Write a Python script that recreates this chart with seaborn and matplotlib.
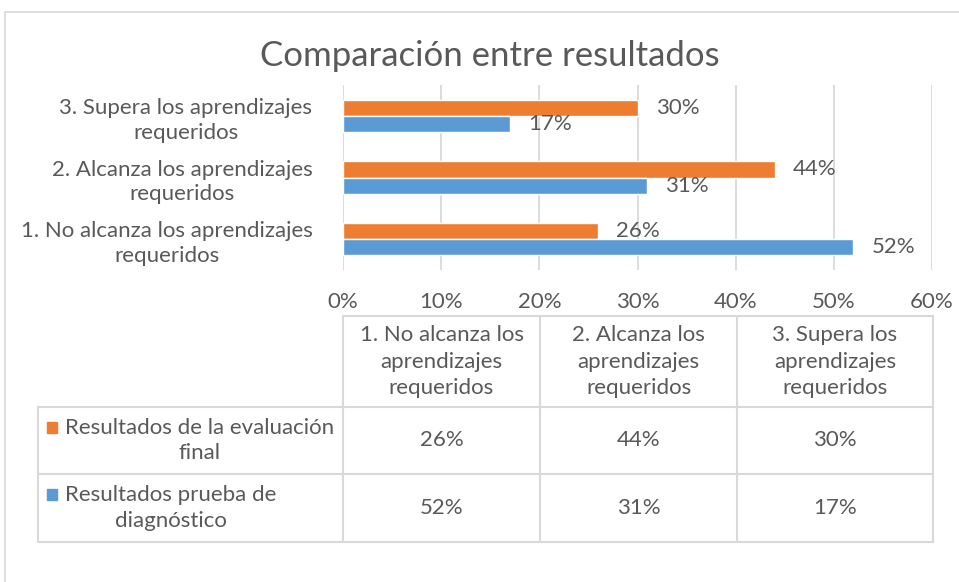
import matplotlib
matplotlib.use("Agg")
import matplotlib.pyplot as plt
import seaborn as sns
import pandas as pd
from matplotlib.ticker import PercentFormatter
from matplotlib.lines import Line2D
from matplotlib.patches import Rectangle

sns.set_theme(style="white")
plt.rcParams["font.family"] = ["Lato", "DejaVu Sans"]

# ---- data ----
categories = [
    "1. No alcanza los aprendizajes requeridos",
    "2. Alcanza los aprendizajes requeridos",
    "3. Supera los aprendizajes requeridos",
]
axis_labels = [
    "1. No alcanza los aprendizajes\nrequeridos",
    "2. Alcanza los aprendizajes\nrequeridos",
    "3. Supera los aprendizajes\nrequeridos",
]
table_headers = [
    "1. No alcanza los\naprendizajes\nrequeridos",
    "2. Alcanza los\naprendizajes\nrequeridos",
    "3. Supera los\naprendizajes\nrequeridos",
]
series_names = ["Resultados de la evaluación final", "Resultados prueba de diagnóstico"]
series_wrapped = ["Resultados de la evaluación\nfinal", "Resultados prueba de\ndiagnóstico"]
final_eval = [0.26, 0.44, 0.30]
diagnostic = [0.52, 0.31, 0.17]
x_ticks = [0.0, 0.1, 0.2, 0.3, 0.4, 0.5, 0.6]
title = "Comparación entre resultados"

ORANGE = "#ED7D31"
BLUE = "#5B9BD5"
TXT = "#595959"
GRID = "#D9D9D9"
FS = 16

df = pd.DataFrame({
    "cat": categories * 2,
    "serie": [series_names[0]] * 3 + [series_names[1]] * 3,
    "val": final_eval + diagnostic,
})

W, H = 959, 582
fig = plt.figure(figsize=(W / 100, H / 100), dpi=100)


def fx(x):
    return x / W


def fy(y):
    return 1 - y / H


# outer chart frame (top and left visible)
fig.add_artist(Line2D([fx(5), fx(959)], [fy(12), fy(12)], color=GRID, lw=1.2, transform=fig.transFigure))
fig.add_artist(Line2D([fx(5), fx(5)], [fy(12), fy(582)], color=GRID, lw=1.2, transform=fig.transFigure))

ax = fig.add_axes([fx(343), fy(270), (932 - 343) / W, (270 - 85) / H])
order = categories[::-1]
sns.barplot(data=df, y="cat", x="val", hue="serie", order=order, hue_order=series_names,
            palette=[ORANGE, BLUE], width=0.52, orient="h", ax=ax, legend=False,
            saturation=1, errorbar=None)

ax.set_xlim(0, 0.6)
ax.set_xticks(x_ticks)
ax.xaxis.set_major_formatter(PercentFormatter(1.0, decimals=0))
ax.grid(axis="x", color=GRID, lw=1.3)
ax.set_axisbelow(True)
sns.despine(ax=ax, left=True, bottom=True)
ax.tick_params(axis="x", length=0, pad=16, labelsize=FS, labelcolor=TXT)
ax.tick_params(axis="y", length=0, pad=22, labelsize=FS, labelcolor=TXT)
lab_map = dict(zip(categories, axis_labels))
ax.set_yticks(range(len(order)))
ax.set_yticklabels([lab_map[c] for c in order], multialignment="center", linespacing=1.3)
ax.set_xlabel("")
ax.set_ylabel("")

for cont in ax.containers:
    ax.bar_label(cont, fmt=lambda v: f"{v * 100:.0f}%", padding=13, fontsize=FS, color=TXT)

fig.text(fx(490), fy(56), title, ha="center", va="center", fontsize=25, color=TXT)

# ---- data table ----
cols = [343, 540, 737, 933]
left = 38
rows = [316, 407, 474, 542]


def hline(x0, x1, y):
    fig.add_artist(Line2D([fx(x0), fx(x1)], [fy(y), fy(y)], color=GRID, lw=1.5, transform=fig.transFigure))


def vline(x, y0, y1):
    fig.add_artist(Line2D([fx(x), fx(x)], [fy(y0), fy(y1)], color=GRID, lw=1.5, transform=fig.transFigure))


hline(cols[0], cols[-1], rows[0])
for y in rows[1:]:
    hline(left, cols[-1], y)
vline(left, rows[1], rows[-1])
for x in cols:
    vline(x, rows[0], rows[-1])

for i, h in enumerate(table_headers):
    fig.text(fx((cols[i] + cols[i + 1]) / 2), fy((rows[0] + rows[1]) / 2), h,
             ha="center", va="center", fontsize=FS, color=TXT, linespacing=1.38)

series_vals = [final_eval, diagnostic]
series_colors = [ORANGE, BLUE]
for r in range(2):
    yc = (rows[r + 1] + rows[r + 2]) / 2
    for i in range(3):
        fig.text(fx((cols[i] + cols[i + 1]) / 2), fy(yc), f"{series_vals[r][i] * 100:.0f}%",
                 ha="center", va="center", fontsize=FS, color=TXT)
    fig.text(fx(65), fy(yc), series_wrapped[r], ha="left", va="center", fontsize=FS,
             color=TXT, multialignment="center", linespacing=1.35)
    top_line_y = yc - 14
    fig.add_artist(Rectangle((fx(47), fy(top_line_y + 6)), 10 / W, 11 / H,
                             color=series_colors[r], transform=fig.transFigure))

fig.savefig("out.png", dpi=100)
